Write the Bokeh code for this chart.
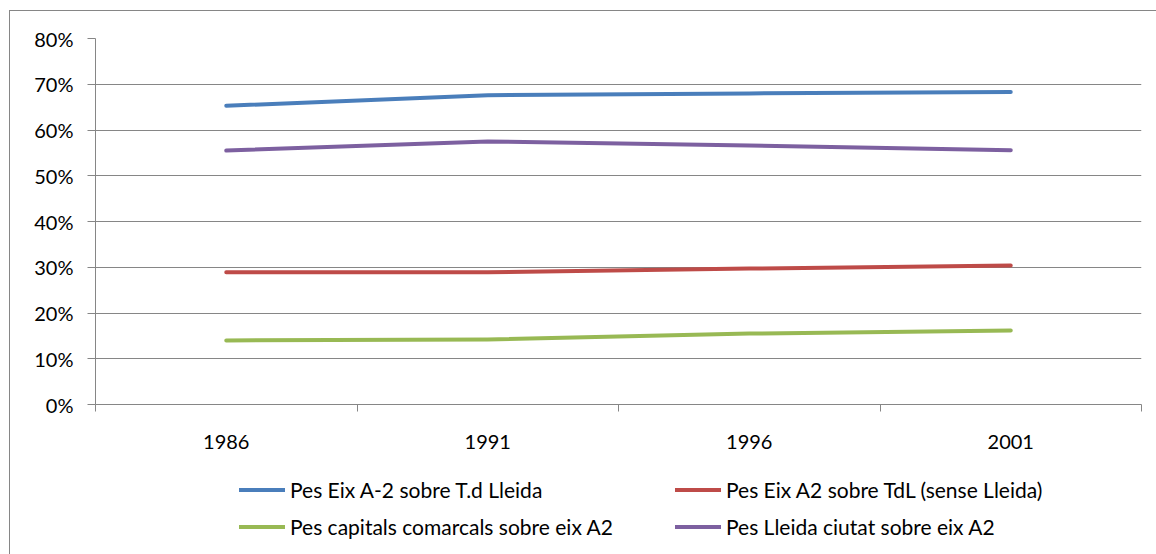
from bokeh.plotting import figure
from bokeh.layouts import column
from bokeh.models import (FactorRange, Range1d, LinearAxis, FixedTicker,
                          NumeralTickFormatter, Legend, LegendItem)
from bokeh.embed import file_html
from bokeh.resources import INLINE

years = ["1986", "1991", "1996", "2001"]
pes_eix_a2_tdl = [0.653, 0.676, 0.680, 0.683]
pes_eix_a2_sense_lleida = [0.289, 0.289, 0.297, 0.304]
pes_capitals_comarcals = [0.140, 0.142, 0.155, 0.162]
pes_lleida_ciutat = [0.555, 0.575, 0.566, 0.556]

series_names = [
    "Pes Eix A-2 sobre T.d Lleida",
    "Pes Eix A2 sobre TdL (sense Lleida)",
    "Pes capitals comarcals sobre eix A2",
    "Pes Lleida ciutat sobre eix A2",
]
series_values = [pes_eix_a2_tdl, pes_eix_a2_sense_lleida, pes_capitals_comarcals, pes_lleida_ciutat]
series_colors = ["#4A7EBB", "#BE4B48", "#98B954", "#7D60A0"]

FONT = "Lato"
FSIZE = "20px"
GREY = "#868686"

p = figure(width=1146, height=459, output_backend="svg", toolbar_location=None,
           x_range=FactorRange(*years, range_padding=0), y_range=Range1d(0, 0.8),
           x_axis_location=None, y_axis_location=None,
           min_border_left=85, min_border_right=15, min_border_top=27, min_border_bottom=66)
p.outline_line_color = None
p.xgrid.visible = False
p.background_fill_color = "white"
p.border_fill_color = "white"

# y axis
yaxis = LinearAxis(ticker=FixedTicker(ticks=[i / 10 for i in range(9)]),
                   formatter=NumeralTickFormatter(format="0%"))
yaxis.axis_line_color = GREY
yaxis.major_tick_line_color = GREY
yaxis.major_tick_out = 8
yaxis.major_tick_in = 0
yaxis.minor_tick_line_color = None
yaxis.major_label_standoff = 14
yaxis.major_label_text_font = FONT
yaxis.major_label_text_font_size = FSIZE
yaxis.major_label_text_color = "#000000"
p.add_layout(yaxis, "left")

p.ygrid.ticker = FixedTicker(ticks=[i / 10 for i in range(9)])
p.ygrid.grid_line_color = GREY
p.ygrid.grid_line_width = 1

# x axis: labels at category centres, tick marks at category boundaries
n = len(years)
xaxis = LinearAxis(ticker=FixedTicker(ticks=[i + 0.5 for i in range(n)],
                                      minor_ticks=list(range(n + 1))))
xaxis.major_label_overrides = {i + 0.5: y for i, y in enumerate(years)}
xaxis.axis_line_color = GREY
xaxis.major_tick_line_color = None
xaxis.major_tick_out = 0
xaxis.major_tick_in = 0
xaxis.minor_tick_line_color = GREY
xaxis.minor_tick_out = 7
xaxis.minor_tick_in = 0
xaxis.major_label_standoff = 23
xaxis.major_label_text_font = FONT
xaxis.major_label_text_font_size = FSIZE
xaxis.major_label_text_color = "#000000"
p.add_layout(xaxis, "below")

for vals, col in zip(series_values, series_colors):
    p.line(years, vals, line_color=col, line_width=4, line_cap="round", line_join="round")

# legend strip below the chart (its series lie outside its own y range, so only the legend shows)
pl = figure(width=1146, height=84, output_backend="svg", toolbar_location=None,
            x_range=FactorRange(*years, range_padding=0), y_range=Range1d(1, 2),
            x_axis_location=None, y_axis_location=None,
            min_border_left=0, min_border_right=0, min_border_top=0, min_border_bottom=0)
pl.outline_line_color = None
pl.grid.visible = False
pl.background_fill_color = "white"
pl.border_fill_color = "white"

legend_items = []
for name, vals, col in zip(series_names, series_values, series_colors):
    r = pl.line(years, vals, line_color=col, line_width=4, line_cap="round")
    legend_items.append(LegendItem(label=name, renderers=[r]))

# fill order of a 2-column legend is column-wise: reorder so rows read blue/red, green/purple
ordered = [legend_items[0], legend_items[2], legend_items[1], legend_items[3]]

legend = Legend(items=ordered, ncols=2, location=(144, 15))
legend.border_line_color = None
legend.background_fill_alpha = 0
legend.padding = 0
legend.margin = 0
legend.spacing = 12
legend.glyph_width = 46
legend.glyph_height = 25
legend.label_height = 25
legend.label_standoff = 5
legend.label_width = 373
legend.label_text_font = FONT
legend.label_text_font_size = "21px"
legend.label_text_color = "#000000"
pl.add_layout(legend)

layout = column(p, pl, spacing=0)
layout.styles = {"margin-left": "9px", "margin-top": "10px",
                 "border-left": "1px solid " + GREY, "border-top": "1px solid " + GREY}

open("out.html", "w").write(file_html(layout, INLINE))
